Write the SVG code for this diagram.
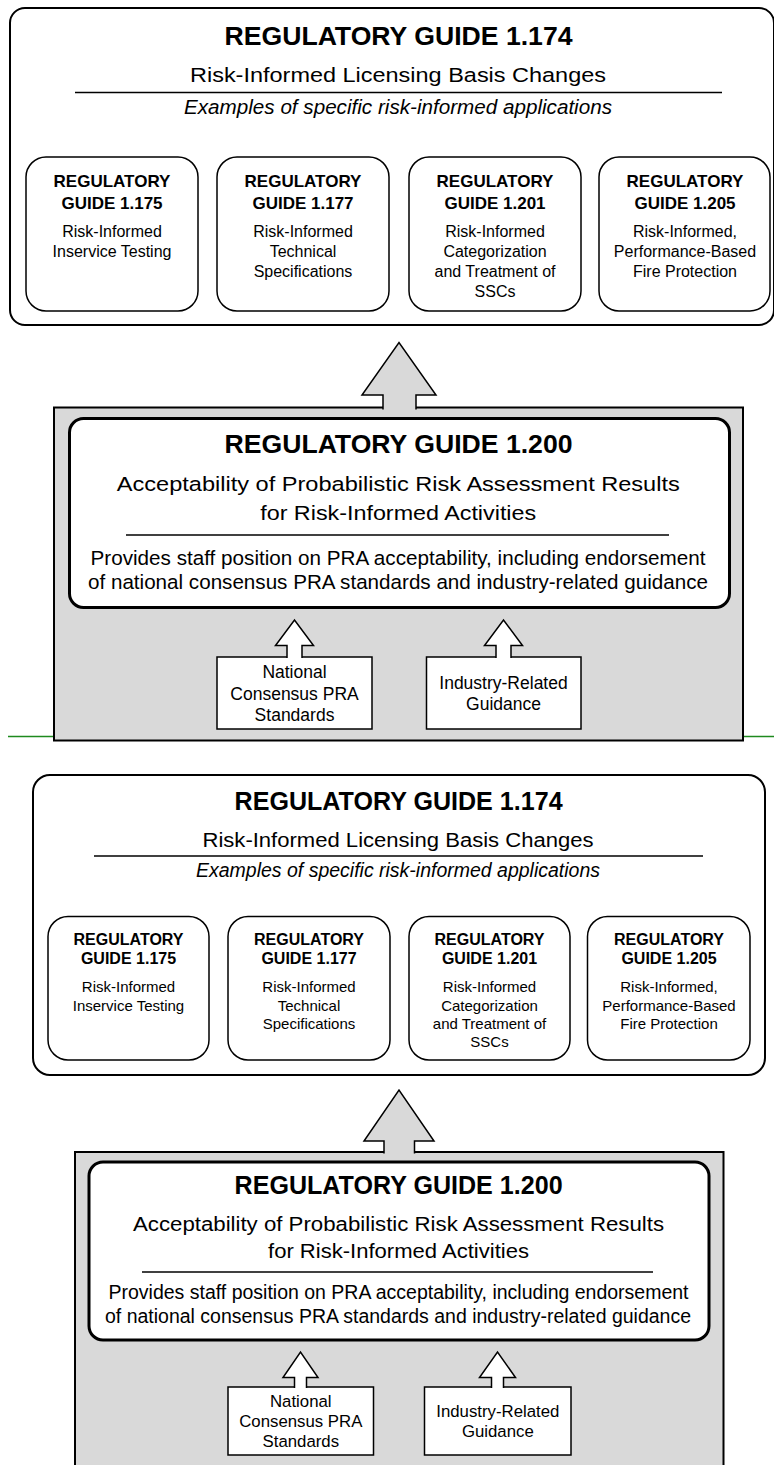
<svg xmlns="http://www.w3.org/2000/svg" width="774" height="1465" viewBox="0 0 774 1465">
<style>
text{font-family:"Liberation Sans",Arial,sans-serif;fill:#000;text-anchor:middle}
.b{font-weight:bold}
.i{font-style:italic}
.outer{fill:#fff;stroke:#000;stroke-width:2}
.card{fill:#fff;stroke:#000;stroke-width:1.5}
.panel{fill:#d9d9d9;stroke:#000;stroke-width:2}
.inner{fill:#fff;stroke:#000;stroke-width:3}
.sbox{fill:#fff;stroke:#000;stroke-width:1.5}
.rule{stroke:#000;stroke-width:1.3}
.bigarrow{fill:#d9d9d9;stroke:#000;stroke-width:1.5}
.smallarrow{fill:#fff;stroke:#000;stroke-width:1.5}
.green{stroke:#1e8a1e;stroke-width:1.5}
.t26{font-size:26px}.t25{font-size:25px}
.t20{font-size:20.5px}.t19{font-size:19.5px}
.c17b{font-size:17px}.c16{font-size:16px}
.c16b{font-size:16px}.c15{font-size:15px}
.s17{font-size:17.5px}.s16{font-size:16.8px}
</style>

<!-- ===== TOP SECTION ===== -->
<g id="rg1174-top">
<rect class="outer" x="10" y="8" width="764" height="317" rx="15"/>
<text class="b t26" x="398.5" y="45" textLength="348" lengthAdjust="spacingAndGlyphs">REGULATORY GUIDE 1.174</text>
<text class="t20" x="398" y="82" textLength="416" lengthAdjust="spacingAndGlyphs">Risk-Informed Licensing Basis Changes</text>
<line class="rule" x1="75" y1="92.5" x2="722" y2="92.5"/>
<text class="i t20" x="398" y="114" textLength="428" lengthAdjust="spacingAndGlyphs">Examples of specific risk-informed applications</text>
</g>
<g id="rg1175-top">
<rect class="card" x="26" y="157" width="172" height="154" rx="20"/>
<text class="b c17b" x="112" y="187">REGULATORY</text>
<text class="b c17b" x="112" y="209">GUIDE 1.175</text>
<text class="c16" x="112" y="237">Risk-Informed</text>
<text class="c16" x="112" y="257">Inservice Testing</text>
</g>
<g id="rg1177-top">
<rect class="card" x="217" y="157" width="172" height="154" rx="20"/>
<text class="b c17b" x="303" y="187">REGULATORY</text>
<text class="b c17b" x="303" y="209">GUIDE 1.177</text>
<text class="c16" x="303" y="237">Risk-Informed</text>
<text class="c16" x="303" y="257">Technical</text>
<text class="c16" x="303" y="277">Specifications</text>
</g>
<g id="rg1201-top">
<rect class="card" x="409" y="157" width="172" height="154" rx="20"/>
<text class="b c17b" x="495" y="187">REGULATORY</text>
<text class="b c17b" x="495" y="209">GUIDE 1.201</text>
<text class="c16" x="495" y="237">Risk-Informed</text>
<text class="c16" x="495" y="257">Categorization</text>
<text class="c16" x="495" y="277">and Treatment of</text>
<text class="c16" x="495" y="297">SSCs</text>
</g>
<g id="rg1205-top">
<rect class="card" x="599" y="157" width="171" height="154" rx="20"/>
<text class="b c17b" x="685" y="187">REGULATORY</text>
<text class="b c17b" x="685" y="209">GUIDE 1.205</text>
<text class="c16" x="685" y="237">Risk-Informed,</text>
<text class="c16" x="685" y="257">Performance-Based</text>
<text class="c16" x="685" y="277">Fire Protection</text>
</g>

<g id="rg1200-panel-top">
<rect class="panel" x="54" y="407.5" width="689" height="333"/>
</g>
<g id="rg1200-top">
<rect class="inner" x="69.5" y="418.5" width="660" height="189" rx="14"/>
<text class="b t26" x="398.5" y="453" textLength="348" lengthAdjust="spacingAndGlyphs">REGULATORY GUIDE 1.200</text>
<text class="t20" x="398.3" y="491" textLength="563" lengthAdjust="spacingAndGlyphs">Acceptability of Probabilistic Risk Assessment Results</text>
<text class="t20" x="398.2" y="520" textLength="276" lengthAdjust="spacingAndGlyphs">for Risk-Informed Activities</text>
<line class="rule" x1="126" y1="535" x2="669" y2="535"/>
<text class="t20" x="398" y="565" textLength="615" lengthAdjust="spacingAndGlyphs">Provides staff position on PRA acceptability, including endorsement</text>
<text class="t20" x="398" y="589" textLength="620" lengthAdjust="spacingAndGlyphs">of national consensus PRA standards and industry-related guidance</text>
</g>
<g id="pra-standards-top">
<rect class="sbox" x="217" y="657" width="155" height="72"/>
<text class="s17" x="294.5" y="678">National</text>
<text class="s17" x="294.5" y="700">Consensus PRA</text>
<text class="s17" x="294.5" y="721">Standards</text>
</g>
<g id="industry-guidance-top">
<rect class="sbox" x="426.5" y="657" width="154.5" height="72"/>
<text class="s17" x="503.5" y="689">Industry-Related</text>
<text class="s17" x="503.5" y="710">Guidance</text>
</g>

<!-- ===== BOTTOM SECTION ===== -->
<g id="rg1174-bottom">
<rect class="outer" x="33" y="775" width="732" height="300" rx="17"/>
<text class="b t25" x="398.6" y="810" textLength="328" lengthAdjust="spacingAndGlyphs">REGULATORY GUIDE 1.174</text>
<text class="t19" x="398" y="847" textLength="391" lengthAdjust="spacingAndGlyphs">Risk-Informed Licensing Basis Changes</text>
<line class="rule" x1="94" y1="856" x2="703" y2="856"/>
<text class="i t19" x="398" y="877" textLength="404" lengthAdjust="spacingAndGlyphs">Examples of specific risk-informed applications</text>
</g>
<g id="rg1175-bottom">
<rect class="card" x="48" y="916.5" width="161" height="143.5" rx="20"/>
<text class="b c16b" x="128.5" y="945">REGULATORY</text>
<text class="b c16b" x="128.5" y="964">GUIDE 1.175</text>
<text class="c15" x="128.5" y="992">Risk-Informed</text>
<text class="c15" x="128.5" y="1011">Inservice Testing</text>
</g>
<g id="rg1177-bottom">
<rect class="card" x="228" y="916.5" width="162" height="143.5" rx="20"/>
<text class="b c16b" x="309" y="945">REGULATORY</text>
<text class="b c16b" x="309" y="964">GUIDE 1.177</text>
<text class="c15" x="309" y="992">Risk-Informed</text>
<text class="c15" x="309" y="1011">Technical</text>
<text class="c15" x="309" y="1029">Specifications</text>
</g>
<g id="rg1201-bottom">
<rect class="card" x="409" y="916.5" width="161" height="143.5" rx="20"/>
<text class="b c16b" x="489.5" y="945">REGULATORY</text>
<text class="b c16b" x="489.5" y="964">GUIDE 1.201</text>
<text class="c15" x="489.5" y="992">Risk-Informed</text>
<text class="c15" x="489.5" y="1011">Categorization</text>
<text class="c15" x="489.5" y="1029">and Treatment of</text>
<text class="c15" x="489.5" y="1047">SSCs</text>
</g>
<g id="rg1205-bottom">
<rect class="card" x="587.5" y="916.5" width="162.5" height="143.5" rx="20"/>
<text class="b c16b" x="669" y="945">REGULATORY</text>
<text class="b c16b" x="669" y="964">GUIDE 1.205</text>
<text class="c15" x="669" y="992">Risk-Informed,</text>
<text class="c15" x="669" y="1011">Performance-Based</text>
<text class="c15" x="669" y="1029">Fire Protection</text>
</g>

<g id="rg1200-panel-bottom">
<rect class="panel" x="75" y="1152" width="648.5" height="330"/>
</g>
<g id="rg1200-bottom">
<rect class="inner" x="89" y="1162" width="620" height="178" rx="14"/>
<text class="b t25" x="398.6" y="1194" textLength="328" lengthAdjust="spacingAndGlyphs">REGULATORY GUIDE 1.200</text>
<text class="t19" x="398.5" y="1231" textLength="531" lengthAdjust="spacingAndGlyphs">Acceptability of Probabilistic Risk Assessment Results</text>
<text class="t19" x="398.5" y="1258" textLength="261" lengthAdjust="spacingAndGlyphs">for Risk-Informed Activities</text>
<line class="rule" x1="142" y1="1272" x2="653" y2="1272"/>
<text class="t19" x="398.5" y="1299" textLength="580" lengthAdjust="spacingAndGlyphs">Provides staff position on PRA acceptability, including endorsement</text>
<text class="t19" x="398" y="1323" textLength="586" lengthAdjust="spacingAndGlyphs">of national consensus PRA standards and industry-related guidance</text>
</g>
<g id="pra-standards-bottom">
<rect class="sbox" x="228" y="1387" width="145.5" height="68"/>
<text class="s16" x="300.8" y="1407">National</text>
<text class="s16" x="300.8" y="1427">Consensus PRA</text>
<text class="s16" x="300.8" y="1447">Standards</text>
</g>
<g id="industry-guidance-bottom">
<rect class="sbox" x="424.5" y="1387" width="146.5" height="68"/>
<text class="s16" x="497.8" y="1417">Industry-Related</text>
<text class="s16" x="497.8" y="1437">Guidance</text>
</g>

<!-- ===== CONNECTORS ===== -->
<g id="connectors">
<path class="bigarrow" d="M383,409.5 V395 H362 L399,342.5 L436,395 H416 V409.5"/>
<path class="smallarrow" d="M287,658 V645.5 H275.5 L294.5,620 L313.5,645.5 H302 V658"/>
<path class="smallarrow" d="M496,658 V645.5 H484.5 L503.5,620 L522.5,645.5 H511 V658"/>
<path class="bigarrow" d="M384,1153.5 V1141 H364 L399,1090 L434,1141 H414.5 V1153.5"/>
<path class="smallarrow" d="M294.5,1388 V1377.5 H283 L300.5,1352 L318,1377.5 H306.5 V1388"/>
<path class="smallarrow" d="M491.5,1388 V1377.5 H479.5 L497.5,1352 L515.5,1377.5 H503.5 V1388"/>
<line class="green" x1="8" y1="736.5" x2="53" y2="736.5"/>
<line class="green" x1="744" y1="736.5" x2="774" y2="736.5"/>
</g>
</svg>
